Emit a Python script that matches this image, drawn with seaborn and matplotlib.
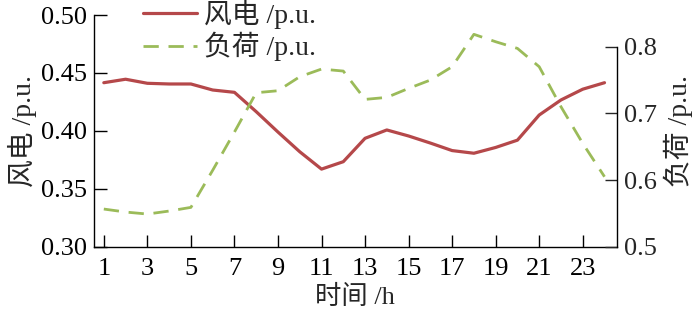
import numpy as np
import pandas as pd
import matplotlib
matplotlib.use("Agg")
import matplotlib.pyplot as plt
import seaborn as sns

hours = list(range(1, 25))
wind = [0.4416, 0.4446, 0.4411, 0.4405, 0.4405, 0.4353, 0.4333, 0.4166, 0.3990, 0.3820,
        0.3670, 0.3734, 0.3936, 0.4008, 0.3956, 0.3895, 0.3830, 0.3807, 0.3857, 0.3920,
        0.4137, 0.4267, 0.4360, 0.4416]
load = [0.5565, 0.5520, 0.5490, 0.5535, 0.5590, 0.6146, 0.6720, 0.7310, 0.7340, 0.7550,
        0.7665, 0.7635, 0.7210, 0.7240, 0.7375, 0.7500, 0.7700, 0.8186, 0.8075, 0.7975,
        0.7700, 0.7100, 0.6550, 0.6050]
xticks = list(range(1, 24, 2))
left_ticks = [0.30, 0.35, 0.40, 0.45, 0.50]
right_ticks = [0.5, 0.6, 0.7, 0.8]

sns.set_style("ticks")
fam = ['Liberation Serif', 'Noto Sans CJK SC', 'DejaVu Sans']
plt.rcParams['font.family'] = fam
plt.rcParams['axes.unicode_minus'] = False

df = pd.DataFrame({"h": hours, "wind": wind, "load": load})

fig = plt.figure(figsize=(7.0, 3.14), dpi=100)
ax = fig.add_axes([0.134, 0.2143, 0.747, 0.7377])
ax2 = ax.twinx()

red = "#B5484A"
green = "#9BBB59"
sns.lineplot(data=df, x="h", y="wind", ax=ax, color=red, lw=2.3, label="风电 /p.u.", legend=False)
sns.lineplot(data=df, x="h", y="load", ax=ax2, color=green, lw=2.0, linestyle=(0, (5.5, 3.5)),
             label="负荷 /p.u.", legend=False)

ax.set_xlim(0.54, 24.56)
ax.set_ylim(0.30, 0.50)
ax2.set_ylim(0.5, 0.8475)
ax.set_xticks(xticks)
ax.set_yticks(left_ticks)
ax.set_yticklabels([f"{v:.2f}" for v in left_ticks])
ax2.set_yticks(right_ticks)
ax2.set_yticklabels([f"{v:.1f}" for v in right_ticks])

for a in (ax, ax2):
    a.spines['top'].set_visible(False)
    for s in a.spines.values():
        s.set_linewidth(1.0)
        s.set_color('black')
ax.spines['right'].set_visible(False)
ax2.spines['left'].set_visible(False)
ax2.spines['bottom'].set_visible(False)
ax2.spines['right'].set_bounds(0.5, 0.8)

ax.tick_params(axis='both', direction='in', length=9, width=1.0, labelsize=19, colors='black')
ax.tick_params(axis='x', pad=8)
ax.tick_params(axis='y', pad=5)
ax2.tick_params(axis='y', direction='in', length=9, width=1.0, labelsize=19, pad=5)

ax.set_xlabel("时间 /h", fontsize=19, labelpad=4)
ax.set_ylabel("风电 /p.u.", fontsize=20, labelpad=3)
ax2.set_ylabel("负荷 /p.u.", fontsize=20, labelpad=5, rotation=90)

h1, l1 = ax.get_legend_handles_labels()
h2, l2 = ax2.get_legend_handles_labels()
fig.legend(h1 + h2, l1 + l2, loc='upper left', bbox_to_anchor=(0.188, 1.035), frameon=False,
           fontsize=20, handlelength=1.95, handletextpad=0.25, labelspacing=0.1, borderaxespad=0)

fig.savefig("out.png", dpi=100)
